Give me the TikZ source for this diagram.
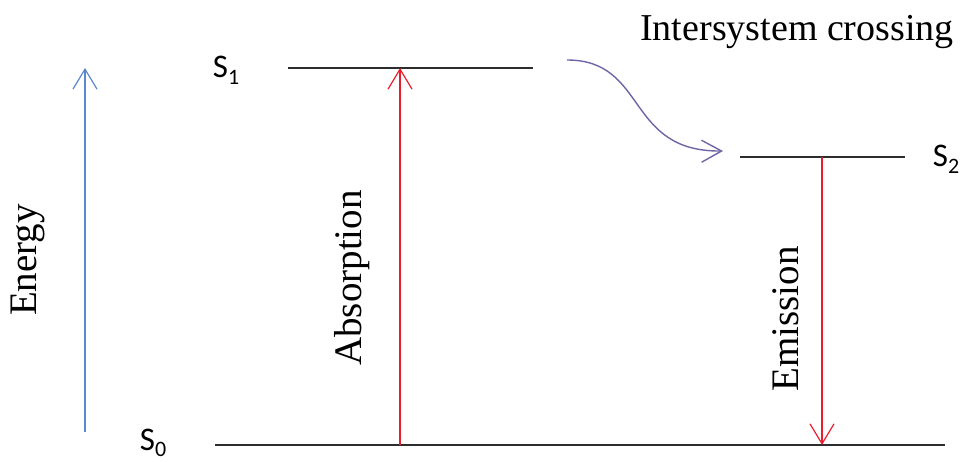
\documentclass[tikz,border=0pt]{standalone}
\usepackage{fontspec}
\setmainfont{Liberation Serif}
\newfontfamily\calib{Carlito}
\usetikzlibrary{arrows.meta}
\definecolor{levelgray}{RGB}{45,45,45}
\definecolor{energyblue}{RGB}{90,135,205}
\definecolor{transred}{RGB}{232,30,45}
\definecolor{iscpurple}{RGB}{112,100,165}
\tikzset{
  level/.style={draw=levelgray, line width=1.6pt},
  vlabel/.style={font=\fontsize{39}{39}\selectfont, rotate=90, inner sep=0pt},
  slabel/.style={font=\calib\fontsize{33}{33}\selectfont, inner sep=0pt},
  vbarb/.style={-{Straight Barb[length=20pt,width=24pt,line width=1.2pt]}},
}
\newcommand{\lvl}[1]{S\raisebox{-0.2em}{\fontsize{22}{22}\selectfont #1}}
\begin{document}
\begin{tikzpicture}[x=1pt,y=-1pt]
\useasboundingbox (0,0) rectangle (966,462);
% levels
\coordinate (s1l) at (288,68);
\coordinate (s1r) at (533,68);
\coordinate (s2l) at (740,157);
\coordinate (s2r) at (905,157);
\coordinate (s0l) at (215,445);
\coordinate (s0r) at (945,445);
\draw[level] (s1l) -- (s1r);
\draw[level] (s2l) -- (s2r);
\draw[level] (s0l) -- (s0r);
% level labels
\node[slabel] (labS1) at (226,70) {\lvl{1}};
\node[slabel] (labS2) at (946,159) {\lvl{2}};
\node[slabel] (labS0) at (153,443) {\lvl{0}};
% energy axis
\coordinate (eb) at (85,432);
\coordinate (et) at (85,68);
\draw[energyblue, line width=1.2pt, vbarb] (eb) -- (et);
\node[vlabel] (energy) at (28,260) {Energy};
% absorption
\coordinate (ab0) at (400,445);
\coordinate (ab1) at (400,68);
\draw[transred, line width=1.3pt, vbarb] (ab0) -- (ab1);
\node[vlabel] (absorption) at (352,278) {Absorption};
% emission
\coordinate (em0) at (822,157);
\coordinate (em1) at (822,445);
\draw[transred, line width=1.3pt, vbarb] (em0) -- (em1);
\node[vlabel] (emission) at (786,319) {Emission};
% intersystem crossing
\node[font=\fontsize{38}{38}\selectfont, inner sep=0pt] (isc) at (797,32) {Intersystem crossing};
\coordinate (iscA) at (567,60);
\coordinate (iscB) at (723,151);
\draw[iscpurple, line width=1.4pt, -{Straight Barb[length=20pt,width=22pt,line width=1.4pt]}]
  (iscA) .. controls (648,60) and (625,152) .. (iscB);
\end{tikzpicture}
\end{document}
